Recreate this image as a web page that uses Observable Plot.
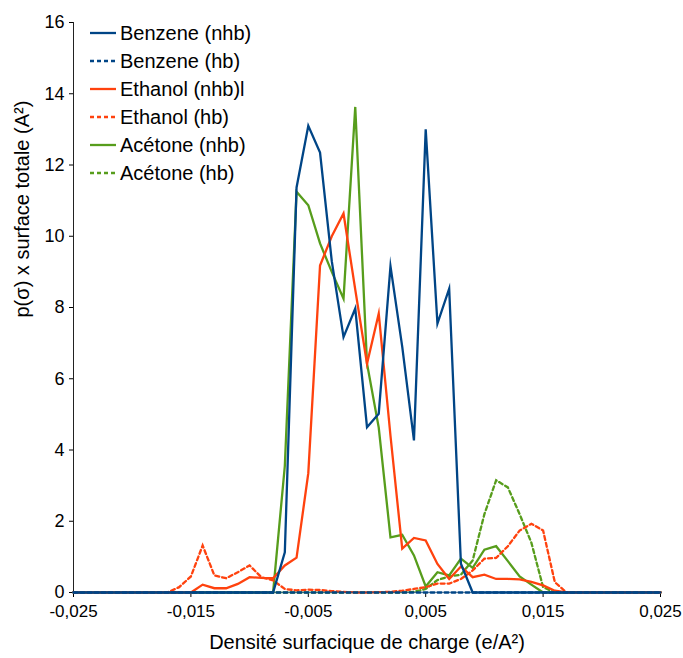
<!DOCTYPE html>
<html><head><meta charset="utf-8">
<script src="https://cdn.jsdelivr.net/npm/d3@7"></script>
<script src="https://cdn.jsdelivr.net/npm/@observablehq/plot@0.6"></script>
<style>
body{margin:0;background:#fff;font-family:"Liberation Sans",Arial,sans-serif;color:#000}
#wrap{position:relative;width:683px;height:658px}
#legend{position:absolute;left:0;top:0}
.row{position:absolute;left:90px;height:28px;display:flex;align-items:center;font-size:20px;white-space:nowrap}
.row svg{margin-right:4px}
</style></head><body><div id="wrap"><div id="legend"></div></div>
<script>
// Surface charge density (e/A²)
const sigma = [-0.025,-0.024,-0.023,-0.022,-0.021,-0.020,-0.019,-0.018,-0.017,-0.016,
  -0.015,-0.014,-0.013,-0.012,-0.011,-0.010,-0.009,-0.008,-0.007,-0.006,
  -0.005,-0.004,-0.003,-0.002,-0.001,0,0.001,0.002,0.003,0.004,
  0.005,0.006,0.007,0.008,0.009,0.010,0.011,0.012,0.013,0.014,
  0.015,0.016,0.017,0.018,0.019,0.020,0.021,0.022,0.023,0.024,0.025];

const benzeneNhb = [0,0,0,0,0,0,0,0,0,0,
  0,0,0,0,0,0,0,0,1.13,11.37,
  13.1,12.35,9.3,7.17,7.97,4.64,5.02,9.16,6.9,4.27,
  13.0,7.55,8.53,0.81,0,0,0,0,0,0,
  0,0,0,0,0,0,0,0,0,0,0];
const benzeneHb = [0,0,0,0,0,0,0,0,0,0,
  0,0,0,0,0,0,0,0,0,0,
  0,0,0,0,0,0,0,0,0,0,
  0,0,0,0,0,0,0,0,0,0,
  0,0,0,0,0,0,0,0,0,0,0];
const ethanolNhb = [0,0,0,0,0,0,0,0,0,0,
  0,0.22,0.12,0.12,0.24,0.43,0.41,0.40,0.76,0.98,
  3.35,9.18,10.0,10.64,8.5,6.42,7.83,4.4,1.23,1.53,
  1.46,0.8,0.38,0.73,0.43,0.5,0.38,0.38,0.37,0.3,
  0.2,0.05,0,0,0,0,0,0,0,0,0];
const ethanolHb = [0,0,0,0,0,0,0,0,0,0.15,
  0.45,1.32,0.48,0.4,0.57,0.76,0.43,0.34,0.1,0.06,
  0.08,0.07,0.04,0.02,0,0,0.01,0.02,0.05,0.1,
  0.15,0.25,0.25,0.38,0.62,0.95,0.97,1.3,1.74,1.93,
  1.74,0.29,0,0,0,0,0,0,0,0,0];
const acetoneNhb = [0,0,0,0,0,0,0,0,0,0,
  0,0,0,0,0,0,0,0,3.55,11.25,
  10.87,9.8,9.0,8.25,13.63,6.43,4.63,1.55,1.62,1.04,
  0.17,0.57,0.48,0.95,0.69,1.2,1.3,0.88,0.45,0.22,
  0,0,0,0,0,0,0,0,0,0,0];
const acetoneHb = [0,0,0,0,0,0,0,0,0,0,
  0,0,0,0,0,0,0,0,0,0,
  0,0,0,0,0,0,0,0,0,0.02,
  0.1,0.35,0.45,0.5,0.9,2.2,3.15,2.95,2.2,1.4,
  0.15,0,0,0,0,0,0,0,0,0,0];

const names = ["Benzene (nhb)","Benzene (hb)","Ethanol (nhb)l","Ethanol (hb)","Acétone (nhb)","Acétone (hb)"];
const colors = ["#004586","#004586","#ff420e","#ff420e","#579d1c","#579d1c"];
const dashed = [false,true,false,true,false,true];
const valuesList = [benzeneNhb,benzeneHb,ethanolNhb,ethanolHb,acetoneNhb,acetoneHb];
const drawOrder = [5,4,3,2,1,0];
const xTicks = [-0.025,-0.015,-0.005,0.005,0.015,0.025];
const yTicks = [0,2,4,6,8,10,12,14,16];

const fmt = d => d.toFixed(3).replace(".", ",");

const lineMarks = drawOrder.map(k =>
  Plot.line(sigma.map((s,i)=>({x:s, y:valuesList[k][i]})), {
    x:"x", y:"y", stroke: colors[k], strokeWidth: 2.3,
    strokeDasharray: dashed[k] ? "4,3" : null, strokeLinejoin:"miter", strokeMiterlimit: 10
  })
);

const chart = Plot.plot({
  width: 683, height: 658,
  marginLeft: 73, marginRight: 23, marginTop: 22, marginBottom: 66,
  style: {fontFamily: '"Liberation Sans", Arial, sans-serif', fontSize: "18px", color: "#000", background: "#fff"},
  x: {domain: [-0.025, 0.025]},
  y: {domain: [0, 16]},
  marks: [
    Plot.ruleY([0], {stroke: "#b3b3b3"}),
    Plot.ruleX([-0.025], {stroke: "#222"}),
    Plot.axisX({ticks: xTicks, tickFormat: fmt, tickSize: 5, tickPadding: 7, label: null, fontSize: 17}),
    Plot.axisY({ticks: yTicks, tickSize: 4, tickPadding: 5, label: null, fontSize: 18}),
    ...lineMarks,
    Plot.text(["Densité surfacique de charge (e/A²)"], {frameAnchor: "bottom", dy: 56, fontSize: 20, fill: "#000"}),
    Plot.text(["p(σ) x surface totale (A²)"], {frameAnchor: "left", dx: -51, dy: 10, rotate: -90, fontSize: 20, fill: "#000"})
  ]
});
document.getElementById("wrap").prepend(chart);

const legend = document.getElementById("legend");
names.forEach((n, k) => {
  const row = document.createElement("div");
  row.className = "row";
  row.style.top = (19 + 28*k) + "px";
  row.innerHTML = `<svg width="26" height="4"><line x1="0" y1="2" x2="26" y2="2" stroke="${colors[k]}" stroke-width="2.3" ${dashed[k] ? 'stroke-dasharray="4,3"' : ''}/></svg><span>${n}</span>`;
  legend.appendChild(row);
});
</script>
</body></html>
